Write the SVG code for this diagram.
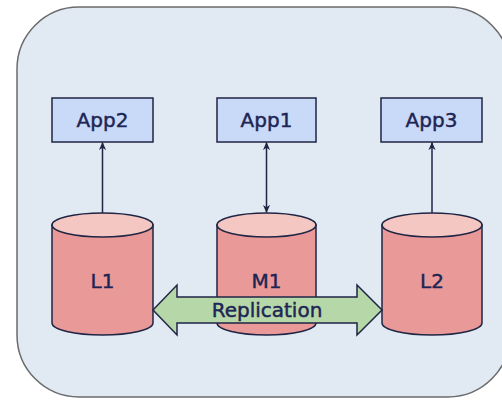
<svg xmlns="http://www.w3.org/2000/svg" width="502" height="400" viewBox="0 0 502 400">
  <style>
    .frame { fill: #E1E9F2; stroke: #6B6B6B; stroke-width: 1.5; }
    .app rect { fill: #C9DAF8; stroke: #1F2544; stroke-width: 1.5; }
    .db .body { fill: #EA9999; stroke: #1F2544; stroke-width: 1.5; }
    .db .lid { fill: #F4C7C3; stroke: #1F2544; stroke-width: 1.5; }
    .label { font-family: "DejaVu Sans", Verdana, sans-serif; font-size: 20px; fill: #1E2554; stroke: #1E2554; stroke-width: 0.45; text-anchor: middle; }
    .link { stroke: #1F2544; stroke-width: 1.5; fill: none; }
    .repl { fill: #B6D7A8; stroke: #1F2544; stroke-width: 1.5; stroke-linejoin: miter; }
  </style>
  <defs>
    <marker id="tip" viewBox="0 0 10 10" refX="9.5" refY="5" markerWidth="8" markerHeight="8" markerUnits="userSpaceOnUse" orient="auto-start-reverse">
      <path d="M0,0.5 L10,5 L0,9.5 L3,5 Z" fill="#1F2544"/>
    </marker>
  </defs>

  <rect class="frame" x="17" y="7" width="493" height="390" rx="62" ry="62"/>

  <g id="app2" class="app">
    <rect x="52" y="98" width="101" height="44"/>
    <text class="label" x="102.5" y="127">App2</text>
  </g>
  <g id="app1" class="app">
    <rect x="217" y="98" width="99" height="44"/>
    <text class="label" x="266.5" y="127">App1</text>
  </g>
  <g id="app3" class="app">
    <rect x="381" y="98" width="101" height="44"/>
    <text class="label" x="431.5" y="127">App3</text>
  </g>

  <g id="l1" class="db">
    <path class="body" d="M52,225 L52,323 A50.5,12 0 0 0 153,323 L153,225 Z"/>
    <ellipse class="lid" cx="102.5" cy="225" rx="50.5" ry="12"/>
    <text class="label" x="102.5" y="288">L1</text>
  </g>
  <g id="m1" class="db">
    <path class="body" d="M217,225 L217,323 A49.5,12 0 0 0 316,323 L316,225 Z"/>
    <ellipse class="lid" cx="266.5" cy="225" rx="49.5" ry="12"/>
    <text class="label" x="266.5" y="288">M1</text>
  </g>
  <g id="l2" class="db">
    <path class="body" d="M382,225 L382,323 A50,12 0 0 0 482,323 L482,225 Z"/>
    <ellipse class="lid" cx="432" cy="225" rx="50" ry="12"/>
    <text class="label" x="432" y="288">L2</text>
  </g>

  <g id="connectors">
    <line class="link" x1="102.5" y1="213" x2="102.5" y2="142.5" marker-end="url(#tip)"/>
    <line class="link" x1="266.5" y1="142.5" x2="266.5" y2="212.5" marker-start="url(#tip)" marker-end="url(#tip)"/>
    <line class="link" x1="432" y1="213" x2="432" y2="142.5" marker-end="url(#tip)"/>
    <g id="replication">
      <polygon class="repl" points="153,310 177,285 177,297 357,297 357,285 382,310 357,335 357,323 177,323 177,335"/>
      <text class="label" x="267" y="317">Replication</text>
    </g>
  </g>
</svg>
